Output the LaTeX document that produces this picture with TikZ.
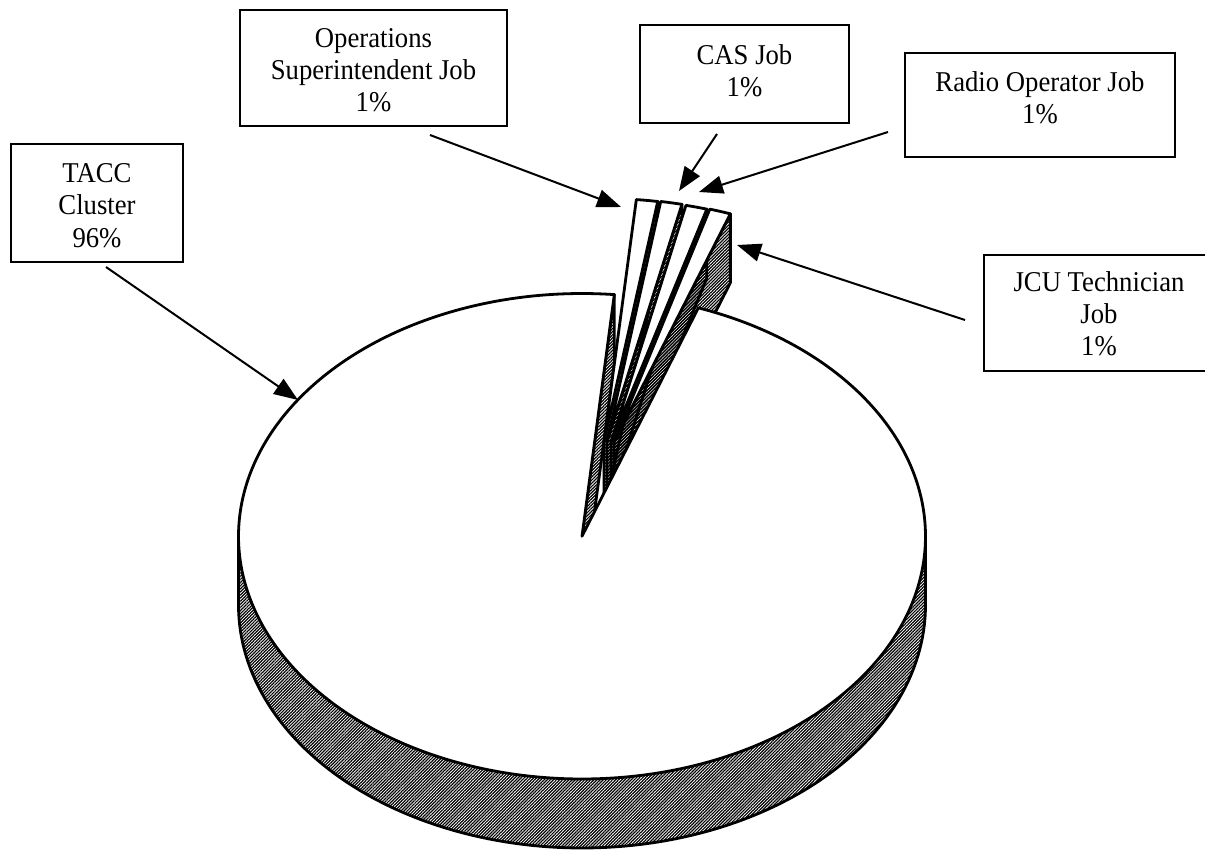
\documentclass[tikz,border=0pt]{standalone}
\usepackage{fontspec}
\setmainfont{Liberation Serif}
\newfontfamily\lblfont[FakeStretch=0.93]{Liberation Serif}
\usetikzlibrary{arrows.meta,patterns.meta}
\newcommand{\pcx}{582}
\newcommand{\pcy}{536.25}
\newcommand{\prx}{343.5}
\newcommand{\pry}{242.75}
\newcommand{\pdep}{69}
\newcommand{\expslice}[5]{%
  \coordinate (#5t) at ({\pcx+#3},{\pcy+#4});
  \coordinate (#5b) at ({\pcx+#3},{\pcy+#4+\pdep});
  \coordinate (#5r) at ({\pcx+#3+\prx*cos(#1)},{\pcy+#4-\pry*sin(#1)});
  \coordinate (#5rb) at ({\pcx+#3+\prx*cos(#1)},{\pcy+#4-\pry*sin(#1)+\pdep});
  \filldraw[dither,pieline] (#5t) -- (#5r) -- (#5rb) -- (#5b) -- cycle;
  \filldraw[fill=white,pieline] (#5t) -- plot[domain=#1:#2,samples=12] ({\pcx+#3+\prx*cos(\x)},{\pcy+#4-\pry*sin(\x)}) -- cycle;
}
\begin{document}
\begin{tikzpicture}[x=1pt,y=-1pt,
  pieline/.style={draw=black,line width=2.8pt,line join=round},
  dither/.style={pattern={Lines[angle=45,distance=2.2pt,line width=1.2pt]},pattern color=black},
  box/.style={draw=black,line width=2pt,fill=white,inner sep=0pt},
  lbl/.style={align=center,inner sep=0pt,font=\lblfont\fontsize{28.7}{32.2}\selectfont},
  arr/.style={draw=black,line width=2pt,-{Triangle[length=24pt,width=18pt]}}]
\useasboundingbox (0,0) rectangle (1205,851);
\fill[white] (0,0) rectangle (1205,851);
% side of the pie
\fill[dither] plot[domain=180:360,samples=120] ({\pcx+\prx*cos(\x)},{\pcy-\pry*sin(\x)+\pdep})
  -- plot[domain=360:180,samples=120] ({\pcx+\prx*cos(\x)},{\pcy-\pry*sin(\x)}) -- cycle;
\draw[pieline] ({\pcx-\prx},\pcy) -- ({\pcx-\prx},{\pcy+\pdep})
  -- plot[domain=180:360,samples=120] ({\pcx+\prx*cos(\x)},{\pcy-\pry*sin(\x)+\pdep})
  -- ({\pcx+\prx},\pcy);
% wall of the TACC slice seen through the gap
\coordinate (C) at (\pcx,\pcy);
\coordinate (P1) at ({\pcx+\prx*cos(84.6)},{\pcy-\pry*sin(84.6)});
\coordinate (P1b) at ({\pcx+\prx*cos(84.6)},{\pcy-\pry*sin(84.6)+\pdep});
\coordinate (Cb) at (\pcx,{\pcy+\pdep});
\filldraw[dither,pieline] (C) -- (P1) -- (P1b) -- (Cb) -- cycle;
% exploded slices (1% each)
\expslice{81}{84.6}{22}{-95}{sD}
\expslice{77.4}{81}{25}{-95}{sC}
\expslice{73.8}{77.4}{29}{-94}{sB}
\expslice{70.2}{73.8}{32}{-94}{sA}
% main TACC slice
\filldraw[fill=white,pieline] (C) -- plot[domain=84.6:430.2,samples=360] ({\pcx+\prx*cos(\x)},{\pcy-\pry*sin(\x)}) -- cycle;
% label boxes
\node[box,minimum width=172pt,minimum height=118pt] (bTACC) at (97,203) {};
\node[lbl] (tTACC) at (97,205.6) {TACC\\Cluster\\96\%};
\node[box,minimum width=267pt,minimum height=116pt] (bOps) at (373.5,68) {};
\node[lbl] (tOps) at (373.5,70) {Operations\\Superintendent Job\\1\%};
\node[box,minimum width=209pt,minimum height=98pt] (bCAS) at (744.5,74) {};
\node[lbl] (tCAS) at (744.5,70.5) {CAS Job\\1\%};
\node[box,minimum width=270pt,minimum height=104pt] (bRadio) at (1040,105) {};
\node[lbl] (tRadio) at (1040,97.5) {Radio Operator Job\\1\%};
\node[box,minimum width=230pt,minimum height=116pt] (bJCU) at (1099,313) {};
\node[lbl] (tJCU) at (1099,314) {JCU Technician\\Job\\1\%};
% arrows
\coordinate (aTACCs) at (106,267); \coordinate (aTACCe) at (298,400);
\coordinate (aOpss) at (430,135);  \coordinate (aOpse) at (621,207);
\coordinate (aCASs) at (717,134);  \coordinate (aCASe) at (679,191);
\coordinate (aRads) at (888,132);  \coordinate (aRade) at (699,192);
\coordinate (aJCUs) at (965,320);  \coordinate (aJCUe) at (737,245);
\draw[arr] (aTACCs) -- (aTACCe);
\draw[arr] (aOpss) -- (aOpse);
\draw[arr] (aCASs) -- (aCASe);
\draw[arr] (aRads) -- (aRade);
\draw[arr] (aJCUs) -- (aJCUe);
\end{tikzpicture}
\end{document}
